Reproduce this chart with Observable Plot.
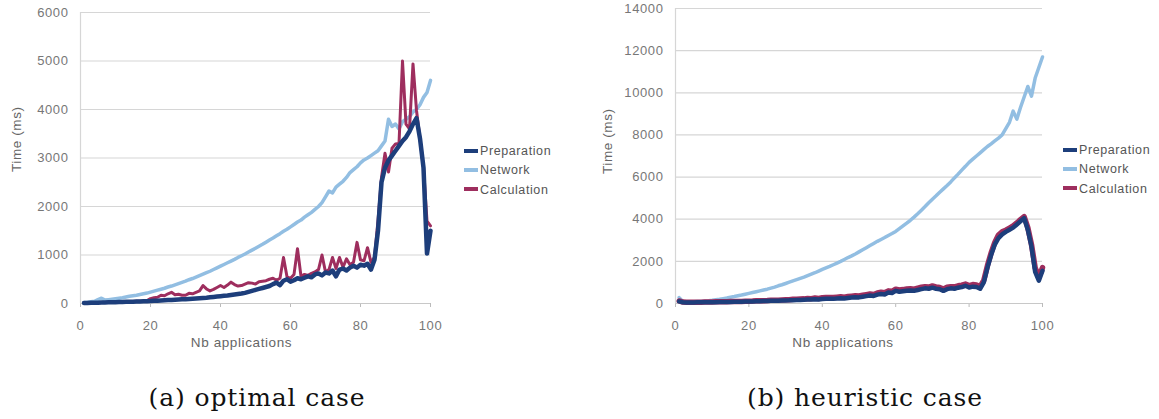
<!DOCTYPE html>
<html>
<head>
<meta charset="utf-8">
<script src="https://cdn.jsdelivr.net/npm/d3@7"></script>
<script src="https://cdn.jsdelivr.net/npm/@observablehq/plot@0.6"></script>
<style>
  html, body { margin: 0; padding: 0; background: #fff; }
  #wrap { position: relative; width: 1159px; height: 419px; overflow: hidden; background: #fff; }
  .chart { position: absolute; top: 0; }
  .chart svg { overflow: visible; }
  .legend { position: absolute; font-family: "Liberation Sans", Arial, sans-serif; font-size: 12.5px; color: #555; letter-spacing: 0.6px; }
  .legend div { position: absolute; white-space: nowrap; height: 16px; line-height: 16px; }
  .legend span.sw { display: inline-block; width: 14px; height: 4px; vertical-align: middle; margin-right: 2px; position: relative; top: -1px; }
  .caption { position: absolute; font-family: "DejaVu Serif", serif; font-size: 25px; color: #111; letter-spacing: 0.9px; white-space: nowrap; }
</style>
</head>
<body>
<div id="wrap"></div>
<script>
// ---------- data ----------
const seriesNames = ["Preparation", "Network", "Calculation"];
const seriesColors = ["#1d3e7b", "#92bee2", "#9e2e5e"];

const optimalPreparation = [10,12,14,16,18,20,22,24,26,28,30,32,34,36,38,40,42,45,48,50,
  55,58,62,66,70,74,78,82,86,90,95,100,105,110,115,120,128,135,142,150,
  158,165,175,185,195,205,220,240,260,280,300,320,340,360,400,430,380,470,500,450,
  480,520,500,530,560,540,600,620,580,640,620,680,560,700,720,680,740,780,740,800,
  780,820,700,900,1500,2500,2800,2950,3050,3150,3250,3350,3430,3550,3700,3820,3400,2800,1030,1500];

const optimalNetwork = [20,25,35,45,80,110,70,80,90,100,110,120,135,150,160,170,185,200,215,235,
  255,275,295,315,340,360,385,410,435,460,490,515,545,575,605,635,665,700,735,770,
  805,840,875,910,950,985,1020,1060,1100,1140,1180,1220,1265,1310,1350,1395,1440,1490,1530,1580,
  1630,1680,1720,1780,1830,1880,1940,2000,2080,2200,2320,2280,2400,2460,2520,2600,2700,2760,2820,2900,
  2960,3000,3050,3100,3150,3250,3350,3800,3650,3700,3600,3750,3800,3850,3950,4000,4100,4250,4350,4600];

const optimalCalculation = [10,12,14,16,18,20,22,24,26,28,30,33,36,40,42,45,48,50,60,100,
  120,130,170,160,200,230,180,190,170,170,210,200,230,260,370,300,260,290,330,370,
  330,380,440,390,360,370,400,430,420,400,450,460,470,500,520,480,520,950,550,520,
  600,1130,560,600,580,620,650,700,1000,650,700,950,720,950,750,920,800,850,1260,900,
  880,1150,850,950,1710,2600,3100,2710,3200,3290,3300,5000,3700,3600,4940,3980,3400,2800,1700,1600];

const heuristicPreparation = [100,60,50,50,50,55,55,60,60,65,65,70,70,75,75,80,80,85,90,95,
  100,105,110,115,120,125,130,135,140,145,150,160,165,170,180,185,190,200,190,210,
  220,230,220,240,250,240,260,280,300,290,320,350,380,360,420,450,430,520,500,600,
  560,580,600,620,600,640,680,720,700,750,700,680,600,680,720,700,750,780,840,760,
  800,780,700,1000,1700,2300,2800,3100,3280,3400,3500,3600,3750,3900,4050,3500,2700,1500,1080,1550];

const heuristicNetwork = [280,100,70,70,80,90,100,115,130,150,175,200,230,260,300,330,365,400,440,480,
  520,560,600,640,680,730,780,840,890,950,1010,1070,1130,1190,1250,1320,1390,1460,1540,1620,
  1690,1760,1840,1920,2000,2090,2180,2260,2350,2450,2550,2650,2750,2850,2950,3040,3130,3230,3320,3420,
  3550,3680,3810,3950,4100,4260,4430,4600,4780,4950,5110,5280,5440,5600,5770,5960,6140,6330,6510,6700,
  6850,7000,7150,7300,7450,7580,7720,7850,8000,8300,8600,9130,8750,9300,9800,10300,9840,10700,11200,11700];

const heuristicCalculation = [120,70,60,60,60,65,65,70,70,75,80,80,85,85,90,95,95,100,105,110,
  115,125,130,135,140,150,155,160,170,175,180,200,200,210,220,240,230,260,240,270,
  280,290,280,300,320,300,330,350,370,360,390,420,450,430,500,530,510,600,580,680,
  640,660,690,700,680,730,770,800,780,830,790,760,690,770,800,790,840,870,920,850,
  900,880,800,1100,1800,2400,2900,3250,3400,3480,3580,3680,3820,3980,4120,3600,2800,1700,1250,1700];

const xTicks = [0, 20, 40, 60, 80, 100];
const yTicksOptimal = [0, 1000, 2000, 3000, 4000, 5000, 6000];
const yTicksHeuristic = [0, 2000, 4000, 6000, 8000, 10000, 12000, 14000];
const xLabel = "Nb applications";
const yLabel = "Time (ms)";
const captions = ["(a) optimal case", "(b) heuristic case"];

// ---------- helpers ----------
function tidy(prep, net, calc) {
  const out = [];
  const arrs = [prep, net, calc];
  arrs.forEach((arr, k) => arr.forEach((v, i) => out.push({ n: i + 1, v, s: seriesNames[k] })));
  return out;
}

function makeChart(cfg) {
  const data = tidy(cfg.prep, cfg.net, cfg.calc);
  const bySeries = name => data.filter(d => d.s === name);
  const font = '"Liberation Sans", Arial, sans-serif';
  return Plot.plot({
    width: cfg.width,
    height: 360,
    marginLeft: cfg.ml,
    marginRight: cfg.mr,
    marginTop: cfg.mt,
    marginBottom: 57,
    style: { fontFamily: font, fontSize: "13px", color: "#777", background: "transparent", letterSpacing: "0.6px" },
    x: { domain: [0, 100], ticks: xTicks },
    y: { domain: cfg.yDomain, ticks: cfg.yTicks },
    color: { domain: seriesNames, range: seriesColors },
    marks: [
      Plot.gridY(cfg.yTicks, { stroke: "#d6d6d6", strokeOpacity: 1, strokeWidth: 1.2 }),
      Plot.ruleX([0], { stroke: "#d6d6d6", strokeWidth: 1.2 }),
      Plot.axisY(cfg.yTicks, { tickSize: 0, tickPadding: 12, label: null, tickFormat: d => String(d), fill: "#777" }),
      Plot.axisX(xTicks, { tickSize: 4, tickPadding: 13, label: null, stroke: "#bbb", fill: "#777" }),
      Plot.ruleY([0], { stroke: "#c8c8c8", strokeWidth: 1.2 }),
      Plot.line(bySeries("Network"), { x: "n", y: "v", stroke: seriesColors[1], strokeWidth: 3.5 }),
      Plot.line(bySeries("Calculation"), { x: "n", y: "v", stroke: seriesColors[2], strokeWidth: cfg.calcWidth }),
      Plot.line(bySeries("Preparation"), { x: "n", y: "v", stroke: seriesColors[0], strokeWidth: 4.5 }),
      Plot.text([xLabel], { frameAnchor: "bottom", dy: 43, dx: cfg.xLabelDx, fill: "#666", fontSize: 13.5 }),
      Plot.text([yLabel], { frameAnchor: "left", rotate: -90, dx: cfg.yLabelDx, dy: cfg.yLabelDy, fill: "#666", fontSize: 13.5 })
    ]
  });
}

const wrap = document.getElementById("wrap");

function place(el, left) {
  const d = document.createElement("div");
  d.className = "chart";
  d.style.left = left + "px";
  d.appendChild(el);
  wrap.appendChild(d);
}

place(makeChart({
  width: 580, ml: 80, mr: 150, mt: 12,
  yDomain: [0, 6000], yTicks: yTicksOptimal,
  prep: optimalPreparation, net: optimalNetwork, calc: optimalCalculation,
  calcWidth: 3, xLabelDx: -14, yLabelDx: -64, yLabelDy: 14
}), 0);

place(makeChart({
  width: 579, ml: 95, mr: 117, mt: 8,
  yDomain: [0, 14000], yTicks: yTicksHeuristic,
  prep: heuristicPreparation, net: heuristicNetwork, calc: heuristicCalculation,
  calcWidth: 5.5, xLabelDx: -16, yLabelDx: -68, yLabelDy: 18
}), 580);

function legend(left, top) {
  const lg = document.createElement("div");
  lg.className = "legend";
  lg.style.left = left + "px";
  lg.style.top = top + "px";
  seriesNames.forEach((name, i) => {
    const row = document.createElement("div");
    row.style.top = (i * 19.3) + "px";
    const sw = document.createElement("span");
    sw.className = "sw";
    sw.style.background = seriesColors[i];
    row.appendChild(sw);
    row.appendChild(document.createTextNode(name));
    lg.appendChild(row);
  });
  wrap.appendChild(lg);
}
legend(464, 143);
legend(1063, 142);

function caption(text, centerX) {
  const c = document.createElement("div");
  c.className = "caption";
  c.textContent = text;
  wrap.appendChild(c);
  c.style.top = "383px";
  c.style.left = (centerX - c.offsetWidth / 2) + "px";
}
caption(captions[0], 257);
caption(captions[1], 865);
</script>
</body>
</html>
